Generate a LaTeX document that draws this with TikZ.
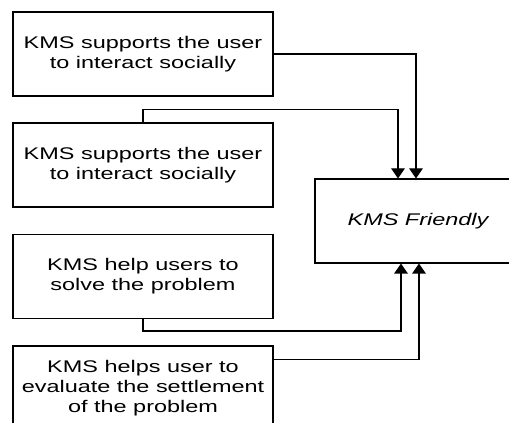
\documentclass[tikz,border=0pt]{standalone}
\usepackage{fontspec}
\newfontfamily\boxfont[FakeStretch=1.39]{Liberation Sans}
\usetikzlibrary{arrows.meta}

\begin{document}
\begin{tikzpicture}[
        box/.style={draw, line width=0.6pt, minimum width=5.2cm, minimum height=1.68cm,
            align=center, inner sep=0pt, font=\boxfont\fontsize{9.6}{11.3}\selectfont},
        arr/.style={line width=0.6pt, -{Triangle[width=0.27cm,length=0.2cm]}}
    ]
                \useasboundingbox (0,0) rectangle (10.18,8.46);
                \node[box] (social1) at (2.86,7.38) {KMS supports the user\\to interact socially};
                \node[box] (social2) at (2.86,5.16) {KMS supports the user\\to interact socially};
                \node[box] (solve) at (2.86,2.93) {KMS help users to\\solve the problem};
                \node[box] (evaluate) at (2.86,0.70) {KMS helps user to\\evaluate the settlement\\of the problem};
                \node[box, minimum width=4.12cm, font=\boxfont\itshape\fontsize{9.6}{11.3}\selectfont] (friendly) at (8.36,4.04) {KMS Friendly};
                \coordinate (evalout) at ([yshift=-0.28cm]evaluate.north east);
                \draw[arr] (social1.east) -| ([xshift=-0.04cm]friendly.north);
                \draw[arr] (social2.north) -- ++(0,0.26) -| ([xshift=-0.4cm]friendly.north);
                \draw[arr] (solve.south) -- ++(0,-0.24) -| ([xshift=-0.34cm]friendly.south);
                \draw[arr] (evalout) -| ([xshift=0.02cm]friendly.south);
            \end{tikzpicture}
\end{document}
